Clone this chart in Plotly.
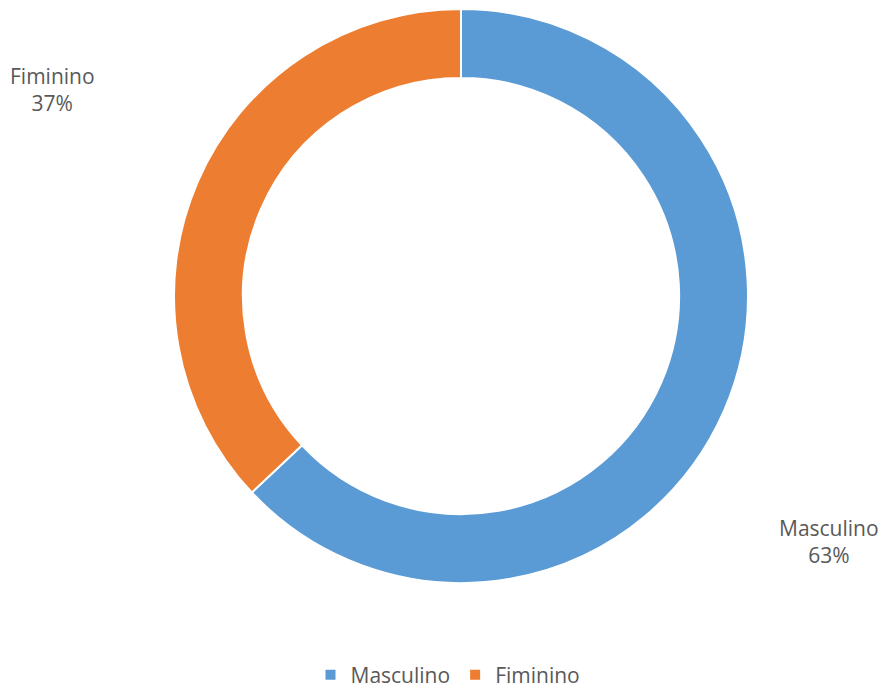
import plotly.graph_objects as go

labels = ["Masculino", "Fiminino"]
values = [63, 37]
colors = ["#5B9BD5", "#ED7D31"]

W, H = 896, 692
cx, cy, r = 461, 296, 287

fig = go.Figure(go.Pie(
    labels=labels,
    values=values,
    hole=0.76,
    sort=False,
    direction="clockwise",
    rotation=0,
    marker=dict(colors=colors, line=dict(color="white", width=2)),
    textinfo="none",
    hoverinfo="label+percent",
    domain=dict(x=[(cx - r) / W, (cx + r) / W], y=[1 - (cy + r) / H, 1 - (cy - r) / H]),
))

# outside labels, text from the data
total = sum(values)
label_pos = {"Masculino": (829, 541), "Fiminino": (52, 90)}
for lab, val in zip(labels, values):
    x, y = label_pos[lab]
    fig.add_annotation(
        x=x / W, y=1 - y / H, xref="paper", yref="paper",
        xanchor="center", yanchor="middle",
        text=f"{lab}<br>{round(100 * val / total)}%",
        showarrow=False, align="center",
        font=dict(size=21, color="#595959"),
    )

fig.update_layout(
    width=W, height=H,
    margin=dict(l=0, r=0, t=0, b=0, autoexpand=False),
    paper_bgcolor="white",
    font=dict(family="Open Sans, sans-serif", color="#595959", size=21),
    showlegend=True,
    legend=dict(orientation="h", x=0.5, xanchor="center", y=1 - 675 / H, yanchor="middle",
                itemwidth=30, font=dict(size=21, color="#595959")),
)

# drop the default body margin so the figure sits at the window's corner
fig.write_html("out.html", config={"displayModeBar": False},
               post_script="document.body.style.margin='0';")
